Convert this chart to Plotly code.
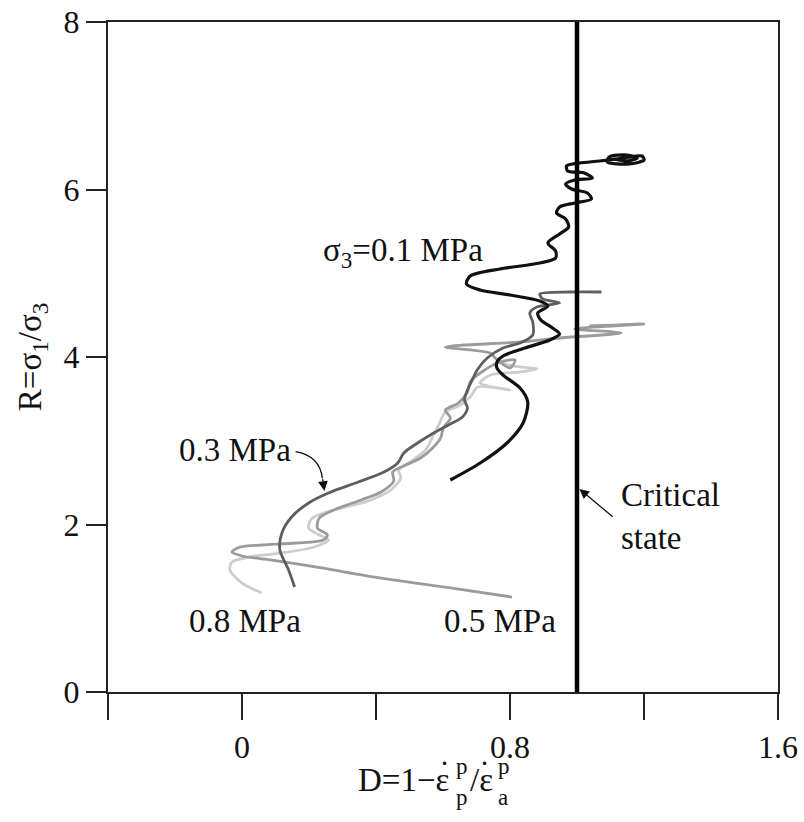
import plotly.graph_objects as go

# ---- data ----
# sigma3 = 0.1 MPa (black)
d_01 = [0.622, 0.711, 0.791, 0.839, 0.853, 0.830, 0.779, 0.761, 0.761, 0.779, 0.844, 0.919,
        0.948, 0.927, 0.892, 0.883, 0.913, 0.889, 0.800, 0.711, 0.670, 0.681, 0.770, 0.889,
        0.936, 0.936, 0.913, 0.948, 0.975, 0.966, 0.939, 0.948, 0.993, 1.043, 1.031, 0.984,
        0.966, 0.993, 1.046, 1.022, 0.972, 0.969, 1.007, 1.067, 1.141, 1.194, 1.200, 1.156,
        1.090, 1.096, 1.150, 1.180, 1.150, 1.111]
r_01 = [2.531, 2.734, 2.973, 3.212, 3.463, 3.630, 3.785, 3.869, 3.940, 4.012, 4.107, 4.203,
        4.275, 4.346, 4.442, 4.525, 4.609, 4.669, 4.740, 4.800, 4.872, 4.967, 5.051, 5.122,
        5.182, 5.266, 5.361, 5.469, 5.552, 5.648, 5.719, 5.791, 5.839, 5.887, 5.958, 6.006,
        6.066, 6.113, 6.137, 6.197, 6.221, 6.281, 6.316, 6.340, 6.376, 6.400, 6.352, 6.305,
        6.328, 6.388, 6.412, 6.376, 6.340, 6.364]

# sigma3 = 0.3 MPa (dark grey)
d_03 = [0.157, 0.139, 0.113, 0.119, 0.148, 0.199, 0.258, 0.347, 0.424, 0.465, 0.483, 0.524,
        0.572, 0.622, 0.658, 0.673, 0.664, 0.673, 0.687, 0.702, 0.732, 0.779, 0.830, 0.868,
        0.868, 0.859, 0.880, 0.948, 0.898, 0.889, 0.978, 1.073]
r_03 = [1.254, 1.457, 1.696, 1.899, 2.090, 2.257, 2.376, 2.507, 2.627, 2.734, 2.854, 2.973,
        3.093, 3.200, 3.284, 3.391, 3.487, 3.606, 3.725, 3.845, 3.988, 4.107, 4.167, 4.263,
        4.418, 4.525, 4.597, 4.645, 4.693, 4.752, 4.776, 4.776]

# sigma3 = 0.5 MPa (medium grey)
d_05 = [0.806, 0.622, 0.415, 0.237, 0.089, 0.000, -0.030, -0.006, 0.059, 0.163, 0.243, 0.255,
        0.225, 0.231, 0.281, 0.356, 0.415, 0.453, 0.450, 0.489, 0.533, 0.569, 0.593, 0.601,
        0.622, 0.607, 0.646, 0.673, 0.681, 0.711, 0.770, 0.815, 0.800, 0.756, 0.741, 0.607,
        0.830, 0.948, 1.132, 0.993, 1.200, 1.037]
r_05 = [1.134, 1.242, 1.361, 1.481, 1.576, 1.624, 1.672, 1.731, 1.755, 1.779, 1.815, 1.875,
        1.958, 2.078, 2.185, 2.293, 2.388, 2.519, 2.627, 2.710, 2.794, 2.913, 3.033, 3.152,
        3.272, 3.367, 3.451, 3.582, 3.702, 3.809, 3.940, 3.964, 3.869, 3.988, 4.048, 4.119,
        4.179, 4.227, 4.287, 4.334, 4.394, 4.370]

# sigma3 = 0.8 MPa (light grey)
d_08 = [0.059, 0.000, -0.036, -0.030, 0.021, 0.119, 0.216, 0.258, 0.231, 0.199, 0.207, 0.252,
        0.311, 0.385, 0.444, 0.474, 0.468, 0.510, 0.548, 0.569, 0.587, 0.607, 0.652, 0.681,
        0.704, 0.800, 0.711, 0.741, 0.830, 0.880, 0.806, 0.764]
r_08 = [1.182, 1.301, 1.457, 1.552, 1.612, 1.660, 1.731, 1.815, 1.875, 1.958, 2.066, 2.149,
        2.209, 2.293, 2.412, 2.555, 2.651, 2.770, 2.890, 3.045, 3.188, 3.343, 3.427, 3.522,
        3.642, 3.606, 3.690, 3.785, 3.821, 3.857, 3.893, 3.940]

critical_D = [1.0, 1.0]
critical_R = [0, 8]

x_tickvals = [0, 0.8, 1.6]
x_ticktext = ["0", "0.8", "1.6"]
x_minor_step = 0.4
y_tickvals = [0, 2, 4, 6, 8]
y_ticktext = ["0", "2", "4", "6", "8"]

FONT = "Liberation Serif, Times New Roman, serif"
INK = "#111111"

fig = go.Figure()
fig.add_trace(go.Scatter(x=d_08, y=r_08, mode="lines", line=dict(color="#cdcdcd", width=2.8, shape="spline", smoothing=0.8), showlegend=False))
fig.add_trace(go.Scatter(x=d_05, y=r_05, mode="lines", line=dict(color="#9b9b9b", width=2.8, shape="spline", smoothing=0.8), showlegend=False))
fig.add_trace(go.Scatter(x=d_03, y=r_03, mode="lines", line=dict(color="#5e5e5e", width=2.8, shape="spline", smoothing=0.8), showlegend=False))
fig.add_trace(go.Scatter(x=d_01, y=r_01, mode="lines", line=dict(color=INK, width=3.2, shape="spline", smoothing=0.8), showlegend=False))
fig.add_trace(go.Scatter(x=critical_D, y=critical_R, mode="lines", line=dict(color="#000000", width=4.5), showlegend=False))

ann_font = dict(family=FONT, size=33, color=INK)
fig.add_annotation(x=0.48, y=5.25, text="σ<sub>3</sub>=0.1 MPa", showarrow=False, font=ann_font)
fig.add_annotation(x=-0.02, y=2.89, text="0.3 MPa", showarrow=False, font=ann_font)
# curved arrow for 0.3 MPa
fig.add_shape(type="path", xref="x", yref="y",
              path="M 0.160,2.87 Q 0.232,2.82 0.240,2.55",
              line=dict(color=INK, width=1.3))
fig.add_annotation(x=0.246, y=2.40, ax=0.240, ay=2.56, axref="x", ayref="y", text="",
                   showarrow=True, arrowhead=2, arrowsize=1.5, arrowwidth=1.3, arrowcolor=INK)
fig.add_annotation(x=0.01, y=0.85, text="0.8 MPa", showarrow=False, font=ann_font)
fig.add_annotation(x=0.77, y=0.85, text="0.5 MPa", showarrow=False, font=ann_font)
fig.add_annotation(x=1.126, y=2.09, text="Critical<br>state", showarrow=False, font=ann_font,
                   xanchor="left", align="left")
fig.add_annotation(x=1.007, y=2.424, ax=1.111, ay=2.078, axref="x", ayref="y", text="",
                   showarrow=True, arrowhead=2, arrowsize=1.5, arrowwidth=1.3, arrowcolor=INK)

# x-axis title built from pieces so that the sub/superscripts stack
tf = dict(family=FONT, size=33, color=INK)
sf = dict(family=FONT, size=23, color=INK)
ty = -0.131
fig.add_annotation(xref="x", yref="paper", x=0.625, y=ty, text="D=1−ε", xanchor="right",
                   yanchor="middle", showarrow=False, font=tf)
fig.add_annotation(xref="x", yref="paper", x=0.604, y=ty + 0.010, text="˙", xanchor="center",
                   yanchor="middle", showarrow=False, font=tf)
fig.add_annotation(xref="x", yref="paper", x=0.634, y=ty + 0.020, text="p", xanchor="left",
                   yanchor="middle", showarrow=False, font=sf)
fig.add_annotation(xref="x", yref="paper", x=0.634, y=ty - 0.026, text="p", xanchor="left",
                   yanchor="middle", showarrow=False, font=sf)
fig.add_annotation(xref="x", yref="paper", x=0.676, y=ty, text="/ε", xanchor="left",
                   yanchor="middle", showarrow=False, font=tf)
fig.add_annotation(xref="x", yref="paper", x=0.723, y=ty + 0.010, text="˙", xanchor="center",
                   yanchor="middle", showarrow=False, font=tf)
fig.add_annotation(xref="x", yref="paper", x=0.758, y=ty + 0.020, text="p", xanchor="left",
                   yanchor="middle", showarrow=False, font=sf)
fig.add_annotation(xref="x", yref="paper", x=0.758, y=ty - 0.026, text="a", xanchor="left",
                   yanchor="middle", showarrow=False, font=sf)

fig.update_layout(
    width=804, height=822,
    margin=dict(l=108, r=26, t=22, b=130, autoexpand=False),
    paper_bgcolor="white", plot_bgcolor="white",
    font=dict(family=FONT, size=32, color=INK),
    xaxis=dict(range=[-0.4, 1.6], tickvals=x_tickvals, ticktext=x_ticktext,
               ticks="outside", ticklen=26, tickwidth=1.5, tickcolor="#222",
               minor=dict(dtick=x_minor_step, tick0=0, ticks="outside", ticklen=26,
                          tickwidth=1.5, tickcolor="#222"),
               showline=True, linecolor="#222", linewidth=2, mirror=True,
               showgrid=False, zeroline=False, automargin=False,
               tickfont=dict(family=FONT, size=32, color=INK)),
    yaxis=dict(range=[0, 8], tickvals=y_tickvals, ticktext=y_ticktext,
               ticks="outside", ticklen=20, tickwidth=1.5, tickcolor="#222",
               showline=True, linecolor="#222", linewidth=2, mirror=True,
               showgrid=False, zeroline=False, automargin=False,
               tickfont=dict(family=FONT, size=32, color=INK),
               title=dict(text="R=σ<sub>1</sub>/σ<sub>3</sub>",
                          font=dict(family=FONT, size=33, color=INK), standoff=12)),
)

fig.write_html("out.html")
